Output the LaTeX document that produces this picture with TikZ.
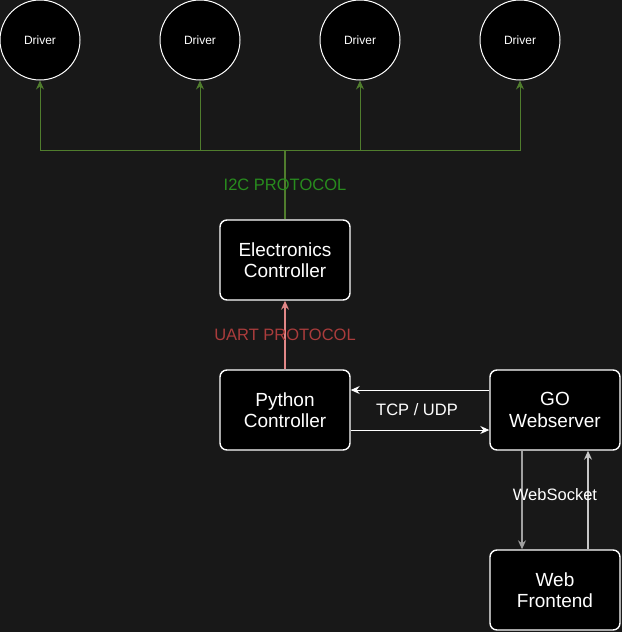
\documentclass[tikz,border=0pt]{standalone}
\usepackage{fontspec}
\setmainfont{Liberation Sans}
\usetikzlibrary{arrows.meta}
\definecolor{bg}{RGB}{24,24,24}
\definecolor{busgreen}{RGB}{80,125,45}
\definecolor{labgreen}{RGB}{40,140,30}
\definecolor{uartline}{RGB}{225,135,135}
\definecolor{uartlab}{RGB}{170,60,60}
\definecolor{wsdown}{RGB}{160,160,160}
\definecolor{wsup}{RGB}{200,200,200}
\tikzset{
  box/.style={draw=white, line width=1.4pt, fill=black, rounded corners=7pt,
    minimum width=130pt, minimum height=80pt, inner sep=0pt, text=white,
    align=center, font=\fontsize{19}{21.5}\selectfont},
  drv/.style={draw=white, line width=1pt, fill=black, circle, minimum size=80pt,
    inner sep=0pt, text=white, font=\fontsize{12}{14}\selectfont},
  tip/.style={-{Stealth[length=9pt,width=8pt,inset=3pt]}},
  lab/.style={font=\fontsize{16.5}{19}\selectfont, inner sep=0pt},
}
\begin{document}
\begin{tikzpicture}[x=1pt,y=-1pt]
\fill[bg] (0,0) rectangle (622,632);
\useasboundingbox (0,0) rectangle (622,632);
\foreach \i/\x in {1/40,2/200,3/360,4/520}
  \node[drv] (d\i) at (\x,40) {Driver};
\node[box] (elec) at (285,260) {Electronics\\Controller};
\node[box] (py) at (285,410) {Python\\Controller};
\node[box] (go) at (555,410) {GO\\Webserver};
\node[box] (web) at (555,590) {Web\\Frontend};
\coordinate (bus) at (285,150);
% I2C bus
\draw[busgreen, line width=1.4pt] (elec.north) -- (bus);
\foreach \i in {1,2,3,4}
  \draw[busgreen, line width=1pt, tip] (bus) -| (d\i.south);
\node[lab, text=labgreen] (i2c) at (285,185) {I2C PROTOCOL};
% UART
\draw[uartline, line width=1.4pt, tip] (py.north) -- (elec.south);
\node[lab, text=uartlab] (uart) at (285,335) {UART PROTOCOL};
% TCP/UDP
\draw[white, line width=1pt, tip] ([yshift=20pt]go.west) -- ([yshift=20pt]py.east);
\draw[white, line width=1pt, tip] ([yshift=-20pt]py.east) -- ([yshift=-20pt]go.west);
\node[lab, text=white] (tcp) at (417,410) {TCP / UDP};
% WebSocket
\draw[wsdown, line width=1.2pt, tip] ([xshift=-33pt]go.south) -- ([xshift=-33pt]web.north);
\draw[wsup, line width=1.2pt, tip] ([xshift=33pt]web.north) -- ([xshift=33pt]go.south);
\node[lab, text=white] (ws) at (555,495) {WebSocket};
\end{tikzpicture}
\end{document}
